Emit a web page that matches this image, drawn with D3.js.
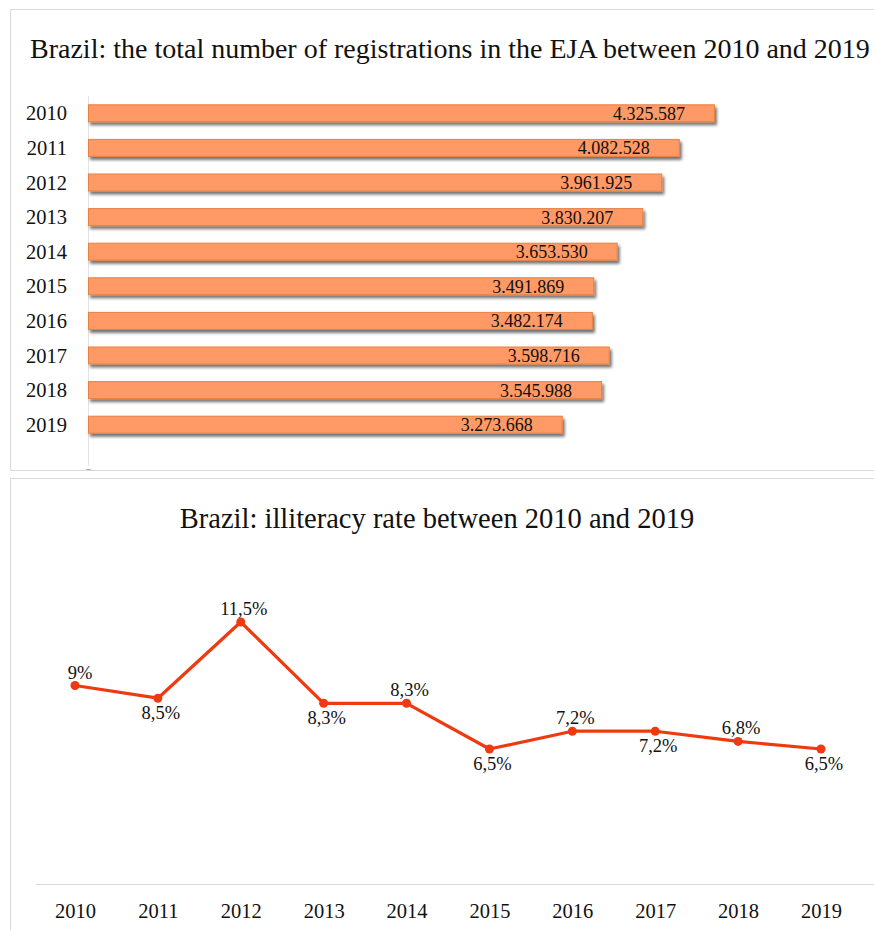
<!DOCTYPE html>
<html>
<head>
<meta charset="utf-8">
<script src="https://cdn.jsdelivr.net/npm/d3@7/dist/d3.min.js"></script>
<style>
  html, body { margin: 0; padding: 0; background: #fff; }
  svg { display: block; }
  text { font-family: "Liberation Serif", "Times New Roman", serif; fill: #111; }
</style>
</head>
<body>
<svg id="chart" width="874" height="930"></svg>
<script>
// ---- Data ----
const barTitle = "Brazil: the total number of registrations in the EJA between 2010 and 2019";
const barYears = ["2010","2011","2012","2013","2014","2015","2016","2017","2018","2019"];
const registrations = [4325587, 4082528, 3961925, 3830207, 3653530, 3491869, 3482174, 3598716, 3545988, 3273668];
const registrationLabels = ["4.325.587","4.082.528","3.961.925","3.830.207","3.653.530","3.491.869","3.482.174","3.598.716","3.545.988","3.273.668"];

const lineTitle = "Brazil: illiteracy rate between 2010 and 2019";
const lineYears = ["2010","2011","2012","2013","2014","2015","2016","2017","2018","2019"];
const illiteracy = [9, 8.5, 11.5, 8.3, 8.3, 6.5, 7.2, 7.2, 6.8, 6.5];
const illiteracyLabels = ["9%","8,5%","11,5%","8,3%","8,3%","6,5%","7,2%","7,2%","6,8%","6,5%"];
const labelSide = ["above","below","above","below","above","below","above","below","above","below"];

const svg = d3.select("#chart");

// Shadow filter
const defs = svg.append("defs");
const f = defs.append("filter").attr("id","shadow").attr("x","-5%").attr("y","-30%").attr("width","115%").attr("height","190%");
f.append("feGaussianBlur").attr("in","SourceAlpha").attr("stdDeviation",1.6).attr("result","blur");
f.append("feOffset").attr("in","blur").attr("dx",1.5).attr("dy",3).attr("result","off");
f.append("feComponentTransfer").attr("in","off").attr("result","sh")
  .append("feFuncA").attr("type","linear").attr("slope",0.55);
const m = f.append("feMerge");
m.append("feMergeNode").attr("in","sh");
m.append("feMergeNode").attr("in","SourceGraphic");

// ---- Panels ----
svg.append("rect").attr("x",10.5).attr("y",9.5).attr("width",880).attr("height",461)
  .attr("fill","#fff").attr("stroke","#d9d9d9");
svg.append("rect").attr("x",10.5).attr("y",478.5).attr("width",880).attr("height",470)
  .attr("fill","#fff").attr("stroke","#d9d9d9");

// ---- Bar chart ----
svg.append("text").attr("x",30).attr("y",58).attr("font-size",28).text(barTitle);

const xBar = d3.scaleLinear().domain([0, 5000000]).range([88, 811.5]);
const yBar = d3.scaleBand().domain(barYears).range([96, 442]).paddingInner(0.5).paddingOuter(0.25);

// axis line
svg.append("line").attr("x1",88.5).attr("x2",88.5).attr("y1",96).attr("y2",466)
  .attr("stroke","#e3e3e3").attr("stroke-width",1);
svg.append("line").attr("x1",86).attr("x2",91).attr("y1",469.5).attr("y2",469.5)
  .attr("stroke","#aaa").attr("stroke-width",1);

const bh = 17;
svg.append("g").selectAll("rect").data(barYears).join("rect")
  .attr("x", xBar(0)+0.5)
  .attr("y", (d)=> yBar(d) + yBar.bandwidth()/2 - bh/2)
  .attr("width", (d,i)=> xBar(registrations[i]) - xBar(0))
  .attr("height", bh)
  .attr("fill", "#FF9966")
  .attr("stroke", "#E8813F")
  .attr("stroke-width", 1)
  .attr("filter", "url(#shadow)");

svg.append("g").selectAll("text").data(barYears).join("text")
  .attr("x", 67).attr("y", (d)=> yBar(d) + yBar.bandwidth()/2)
  .attr("dy","0.35em").attr("text-anchor","end").attr("font-size",20.5)
  .text(d=>d);

svg.append("g").selectAll("text").data(barYears).join("text")
  .attr("x", (d,i)=> xBar(registrations[i]) - 29)
  .attr("y", (d)=> yBar(d) + yBar.bandwidth()/2)
  .attr("dy","0.36em").attr("text-anchor","end").attr("font-size",18)
  .text((d,i)=>registrationLabels[i]);

// ---- Line chart ----
svg.append("text").attr("x",437).attr("y",528).attr("text-anchor","middle").attr("font-size",28.5).text(lineTitle);

const xLine = d3.scalePoint().domain(lineYears).range([75, 821]);
const yLine = d3.scaleLinear().domain([6.5, 11.5]).range([749, 622]);

svg.append("line").attr("x1",36).attr("x2",874).attr("y1",884.5).attr("y2",884.5)
  .attr("stroke","#d9d9d9").attr("stroke-width",1.2);

const xAxis = d3.axisBottom(xLine).tickSize(0).tickPadding(0);
const gx = svg.append("g").attr("transform","translate(0,884)").call(xAxis);
gx.select(".domain").remove();
gx.selectAll("text").attr("font-size",20.5).attr("dy",0).attr("y",34)
  .style("font-family","'Liberation Serif', 'Times New Roman', serif").attr("fill","#111");

const lineColor = "#EE3A10";
const line = d3.line().x((d,i)=>xLine(lineYears[i])).y(d=>yLine(d));
svg.append("path").datum(illiteracy).attr("d", line)
  .attr("fill","none").attr("stroke",lineColor).attr("stroke-width",3.2).attr("stroke-linejoin","round");

svg.append("g").selectAll("circle").data(illiteracy).join("circle")
  .attr("cx",(d,i)=>xLine(lineYears[i])).attr("cy",d=>yLine(d)).attr("r",4.5)
  .attr("fill",lineColor);

svg.append("g").selectAll("text").data(illiteracy).join("text")
  .attr("x",(d,i)=>xLine(lineYears[i]) + (i===0 ? 5 : 3))
  .attr("y",(d,i)=> yLine(d) + (labelSide[i]==="above" ? -7 : 21))
  .attr("text-anchor","middle").attr("font-size",18.5)
  .text((d,i)=>illiteracyLabels[i]);
</script>
</body>
</html>
